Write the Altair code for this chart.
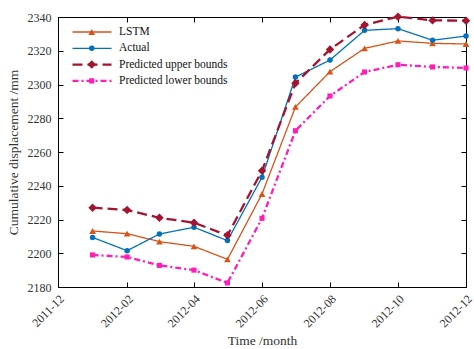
import altair as alt
import pandas as pd

# Monthly observations (first day of each month, 2012)
months = ["2012-01", "2012-02", "2012-03", "2012-04", "2012-05", "2012-06",
          "2012-07", "2012-08", "2012-09", "2012-10", "2012-11", "2012-12"]

series_names = ["LSTM", "Actual", "Predicted upper bounds", "Predicted lower bounds"]

lstm = [2213.2, 2211.6, 2206.9, 2204.1, 2196.4, 2235.1,
        2286.7, 2307.6, 2321.4, 2325.8, 2324.4, 2324.0]
actual = [2209.4, 2201.5, 2211.4, 2215.4, 2207.5, 2245.0,
          2304.4, 2314.5, 2332.1, 2333.1, 2326.2, 2328.7]
upper = [2227.0, 2225.6, 2221.0, 2218.1, 2210.6, 2248.9,
         2300.7, 2320.8, 2335.3, 2340.2, 2338.0, 2337.8]
lower = [2199.0, 2197.8, 2192.8, 2190.0, 2182.4, 2220.7,
         2272.6, 2293.2, 2307.4, 2311.7, 2310.4, 2309.8]

y_ticks = [2180, 2200, 2220, 2240, 2260, 2280, 2300, 2320, 2340]
x_tick_months = [(2011, 12), (2012, 2), (2012, 4), (2012, 6),
                 (2012, 8), (2012, 10), (2012, 12)]

# styling
colors = ["#D95319", "#0072BD", "#A2142F", "#FF1DB8"]
dashes = [[1, 0], [1, 0], [10, 5], [6, 3, 2, 3]]
widths = [1.3, 1.3, 2.3, 2.3]
shapes = ["triangle-up", "circle", "diamond", "square"]
marker_sizes = [45, 30, 72, 26]

W, H = 408, 270
FONT = "Liberation Serif"

rows = []
for name, vals in zip(series_names, [lstm, actual, upper, lower]):
    for m, v in zip(months, vals):
        rows.append({"month": m + "-01T00:00:00", "series": name, "value": v})
df = pd.DataFrame(rows)

x_values = [alt.DateTime(year=y, month=mo, date=1) for y, mo in x_tick_months]

x_enc = alt.X(
    "month:T",
    scale=alt.Scale(domain=[x_values[0], x_values[-1]], nice=False),
    axis=alt.Axis(
        values=x_values, format="%Y-%m", labelAngle=-45, title="Time /month",
        ticks=False, tickSize=0, labelPadding=6, titlePadding=4,
        grid=True, gridDash=[5, H - 10, 5, 1000], gridColor="#000",
        gridOpacity=1, gridWidth=1,
    ),
)
y_enc = alt.Y(
    "value:Q",
    scale=alt.Scale(domain=[2180, 2340], nice=False, zero=False),
    axis=alt.Axis(
        values=y_ticks, format="d", title="Cumulative displacement /mm",
        ticks=False, tickSize=0, labelPadding=7, titlePadding=7,
        grid=True, gridDash=[5, W - 10, 5, 1000], gridColor="#000",
        gridOpacity=1, gridWidth=1,
    ),
)

line_legend = alt.Legend(
    title=None, orient="none", legendX=13, legendY=9, padding=0,
    symbolType="stroke", symbolSize=1521, labelOffset=6, clipHeight=12,
    rowPadding=4.3,
)
point_legend = alt.Legend(
    title=None, orient="none", legendX=28, legendY=9, padding=0,
    labelExpr="''", clipHeight=12, rowPadding=4.3,
)

base = alt.Chart(df)

lines = base.mark_line().encode(
    x=x_enc,
    y=y_enc,
    color=alt.Color("series:N", scale=alt.Scale(domain=series_names, range=colors),
                    legend=line_legend),
    strokeDash=alt.StrokeDash("series:N", scale=alt.Scale(domain=series_names, range=dashes),
                              legend=line_legend),
    strokeWidth=alt.StrokeWidth("series:N",
                                scale=alt.Scale(type="ordinal", domain=series_names, range=widths),
                                legend=line_legend),
    order="month:T",
)

points = base.mark_point(filled=True, opacity=1).encode(
    x=x_enc,
    y=y_enc,
    color=alt.Color("series:N", scale=alt.Scale(domain=series_names, range=colors),
                    legend=point_legend),
    shape=alt.Shape("series:N", scale=alt.Scale(domain=series_names, range=shapes),
                    legend=point_legend),
    size=alt.Size("series:N",
                  scale=alt.Scale(type="ordinal", domain=series_names, range=marker_sizes),
                  legend=point_legend),
)

chart = (
    alt.layer(lines, points)
    .resolve_legend(color="independent", shape="independent", size="independent",
                    strokeDash="independent", strokeWidth="independent")
    .properties(
        width=W, height=H,
        autosize=alt.AutoSizeParams(type="none"),
        padding={"left": 58, "top": 17, "right": 8, "bottom": 62},
        background="white",
    )
    .configure_view(stroke="#000", strokeWidth=1)
    .configure_axis(
        domainColor="#000", domainWidth=1,
        labelFont=FONT, labelFontSize=12, labelColor="#333",
        titleFont=FONT, titleFontSize=13.5, titleColor="#333", titleFontWeight="normal",
    )
    .configure_legend(
        labelFont=FONT, labelFontSize=11.5, labelColor="#111", labelFontWeight="normal",
    )
)

chart.save("out.html", embed_options={"renderer": "svg", "actions": False})
